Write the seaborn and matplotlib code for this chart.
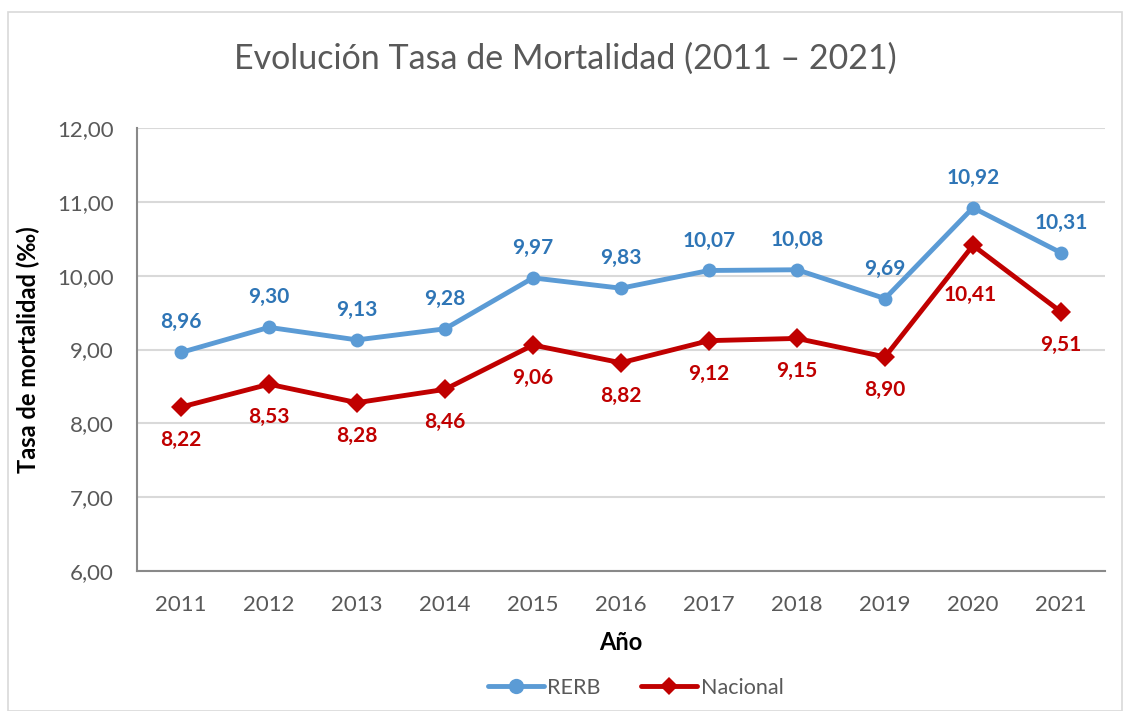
import matplotlib
matplotlib.use("Agg")
import matplotlib.pyplot as plt
import seaborn as sns
import pandas as pd
from matplotlib.patches import Rectangle
from matplotlib.lines import Line2D

years = ["2011", "2012", "2013", "2014", "2015", "2016", "2017", "2018", "2019", "2020", "2021"]
rerb = [8.96, 9.30, 9.13, 9.28, 9.97, 9.83, 10.07, 10.08, 9.69, 10.92, 10.31]
nacional = [8.22, 8.53, 8.28, 8.46, 9.06, 8.82, 9.12, 9.15, 8.90, 10.41, 9.51]
yticks = [6, 7, 8, 9, 10, 11, 12]

sns.set_theme(style="white")
plt.rcParams['font.family'] = ['Lato', 'DejaVu Sans']

df = pd.DataFrame({
    "pos": list(range(len(years))) * 2,
    "valor": rerb + nacional,
    "serie": ["RERB"] * len(years) + ["Nacional"] * len(years),
})

fig = plt.figure(figsize=(11.31, 7.11), dpi=100)
ax = fig.add_axes([137 / 1131, 1 - 571 / 711, (1105 - 137) / 1131, (571 - 128) / 711])

blue_line = "#5B9BD5"
blue_text = "#2E75B6"
red = "#C00000"
gray_text = "#595959"

sns.lineplot(data=df, x="pos", y="valor", hue="serie", style="serie",
             palette={"RERB": blue_line, "Nacional": red},
             markers={"RERB": "o", "Nacional": "D"}, dashes=False,
             linewidth=3.5, markersize=10, markeredgewidth=0, ax=ax, legend=False)

for i, (a, b) in enumerate(zip(rerb, nacional)):
    ax.annotate(f"{a:.2f}".replace(".", ","), (i, a), xytext=(0, 30), textcoords="offset pixels",
                ha="center", va="center", color=blue_text, fontsize=15, fontweight="bold")
    off = -50 if i == 9 else -33
    dx = -3 if i == 9 else 0
    ax.annotate(f"{b:.2f}".replace(".", ","), (i, b), xytext=(dx, off), textcoords="offset pixels",
                ha="center", va="center", color=red, fontsize=15, fontweight="bold")

ax.set_xlim(-0.5, len(years) - 0.5)
ax.set_ylim(6, 12)
ax.set_yticks(yticks)
ax.set_yticklabels([f"{v:.2f}".replace(".", ",") for v in yticks], fontsize=16, color=gray_text)
ax.set_xticks(range(len(years)))
ax.set_xticklabels(years, fontsize=16, color=gray_text)
ax.set_xticks([i - 0.5 for i in range(len(years) + 1)], minor=True)
ax.tick_params(axis="x", which="major", length=0, pad=17)
ax.tick_params(axis="x", which="minor", length=7, width=1.2, color="#898989", direction="out")
ax.tick_params(axis="y", length=0, pad=17)
ax.grid(axis="y", color="#D9D9D9", linewidth=1.5)
ax.set_axisbelow(True)
for s in ["top", "right"]:
    ax.spines[s].set_visible(False)
for s in ["left", "bottom"]:
    ax.spines[s].set_color("#898989")
    ax.spines[s].set_linewidth(1.5)

ax.set_xlabel("Año", fontsize=17, fontweight="bold", color="black", labelpad=12)
ax.set_ylabel("Tasa de mortalidad (‰)", fontsize=17, fontweight="bold", color="black", labelpad=12)

fig.text(0.5, 1 - 59 / 711, "Evolución Tasa de Mortalidad (2011 – 2021)", ha="center", va="center",
         fontsize=24.5, color=gray_text)

handles = [
    Line2D([], [], color=blue_line, linewidth=3.5, marker="o", markersize=11, markeredgewidth=0),
    Line2D([], [], color=red, linewidth=3.5, marker="D", markersize=9, markeredgewidth=0),
]
fig.legend(handles, ["RERB", "Nacional"], loc="center", bbox_to_anchor=(0.562, 1 - 688 / 711),
           ncol=2, frameon=False, fontsize=15.5, labelcolor=gray_text, handlelength=2.6,
           handletextpad=0.15, columnspacing=1.9)

fig.patches.append(Rectangle((8 / 1131, 0), (1122 - 8) / 1131, 1 - 12 / 711,
                             transform=fig.transFigure, fill=False, edgecolor="#D9D9D9", linewidth=1.2))

fig.savefig("out.png", dpi=100)
